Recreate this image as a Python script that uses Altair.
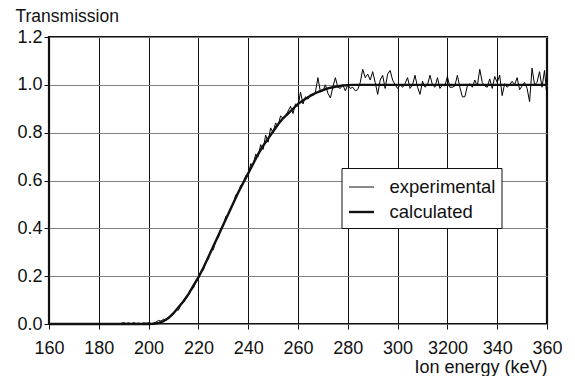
import altair as alt
import pandas as pd

# ---- data ----
calc_energy = list(range(160, 362, 2))
calc_values = [0.0] * 21 + [
    0.001, 0.004, 0.012, 0.025, 0.045, 0.07, 0.095, 0.125, 0.16, 0.195,
    0.235, 0.28, 0.325, 0.37, 0.415, 0.46, 0.505, 0.55, 0.59, 0.63,
    0.67, 0.71, 0.745, 0.775, 0.805, 0.835, 0.86, 0.88, 0.90, 0.92,
    0.935, 0.948, 0.96, 0.97, 0.978, 0.985, 0.99, 0.994, 0.997, 0.999,
] + [1.0] * 40

exp_energy = list(range(188, 361))
exp_values = [
    0.0, 0.003, 0.006, 0.002, 0.005, 0.001, 0.006, 0.002, 0.004, 0.001,
    0.005, 0.003, 0.006, 0.002, 0.004, 0.008, 0.015, 0.012, 0.02, 0.014,
    0.03, 0.032, 0.04, 0.06, 0.058, 0.08, 0.09, 0.105, 0.12, 0.14,
    0.15, 0.175, 0.19, 0.22, 0.225, 0.26, 0.27, 0.31, 0.31, 0.35,
    0.36, 0.40, 0.41, 0.45, 0.455, 0.49, 0.50, 0.54, 0.545, 0.58,
    0.59, 0.62, 0.62, 0.67, 0.665, 0.71, 0.70, 0.75, 0.73, 0.79,
    0.76, 0.82, 0.80, 0.84, 0.83, 0.87, 0.86, 0.87, 0.89, 0.91,
    0.88, 0.92, 0.91, 0.97, 0.92, 0.95, 0.94, 0.96, 0.955, 0.97,
    1.03, 0.97, 0.975, 1.0, 0.965, 0.945, 0.99, 1.03, 0.99, 0.985,
    1.0, 0.975, 1.0, 0.985, 0.99, 0.975, 0.98, 1.01, 1.065, 1.03,
    1.045, 1.02, 1.055, 1.01, 0.96, 1.02, 1.04, 0.985, 1.045, 1.06,
    1.02, 1.0, 0.985, 1.0, 0.99, 1.005, 1.03, 0.985, 1.0, 1.04,
    0.99, 0.96, 1.015, 0.99, 1.0, 1.04, 1.0, 0.99, 1.03, 0.985,
    1.0, 0.995, 1.035, 0.99, 0.99, 0.995, 1.04, 0.99, 0.95, 0.95,
    0.995, 1.005, 0.99, 1.02, 0.995, 1.065, 1.01, 0.995, 0.99, 1.025,
    0.985, 1.035, 1.01, 1.04, 0.955, 1.005, 0.99, 1.0, 1.015, 1.0,
    1.03, 0.98, 0.995, 1.01, 0.985, 0.93, 1.07, 1.0, 1.01, 1.055,
    0.99, 1.06, 0.95,
]

series_names = ["experimental", "calculated"]
x_ticks = [160, 180, 200, 220, 240, 260, 280, 300, 320, 340, 360]
x_tick_labels = ["160", "180", "200", "220", "240", "260", "280", "300", "3200", "340", "360"]
y_ticks = [0.0, 0.2, 0.4, 0.6, 0.8, 1.0, 1.2]

df = pd.concat([
    pd.DataFrame({"energy": exp_energy, "value": exp_values, "series": series_names[0]}),
    pd.DataFrame({"energy": calc_energy, "value": calc_values, "series": series_names[1]}),
])

label_expr = "{" + ",".join(f"'{v}':'{l}'" for v, l in zip(x_ticks, x_tick_labels)) + "}[datum.value]"

FONT = "Liberation Sans"
INK = "#111111"

x_enc = alt.X("energy:Q",
              scale=alt.Scale(domain=[160, 360], nice=False, zero=False),
              axis=alt.Axis(values=x_ticks, labelExpr=label_expr, title="Ion energy (keV)",
                            titleAlign="right", titleAnchor="end", titleX=498, titleY=48,
                            titleBaseline="alphabetic", titleFontSize=18, titleFontWeight="normal",
                            labelFontSize=18, labelFlush=False, labelOverlap=False,
                            tickSize=5, labelPadding=10, domain=False,
                            gridColor=INK, gridWidth=1, gridOpacity=1,
                            tickColor=INK, labelColor=INK, titleColor=INK))
y_enc = alt.Y("value:Q",
              scale=alt.Scale(domain=[0, 1.2], nice=False),
              axis=alt.Axis(values=y_ticks, format=".1f", title="Transmission",
                            titleAngle=0, titleAlign="left", titleX=-34, titleY=-16,
                            titleBaseline="alphabetic", titleFontSize=17.5, titleFontWeight="normal",
                            labelFontSize=18, labelOverlap=False, tickSize=5, labelPadding=2, domain=False,
                            gridColor="#808080", gridWidth=1, gridOpacity=1,
                            tickColor=INK, labelColor=INK, titleColor=INK))
sw_enc = alt.StrokeWidth("series:N",
                         scale=alt.Scale(domain=series_names, range=[1.0, 2.4]),
                         sort=series_names,
                         legend=alt.Legend(title=None, orient="none", legendX=292.5, legendY=131,
                                           symbolType="stroke", symbolStrokeColor=INK,
                                           symbolSize=625, labelFontSize=18.5, labelFont=FONT,
                                           labelColor=INK, labelOffset=14, rowPadding=1,
                                           padding=6, strokeColor=INK, fillColor="white",
                                           cornerRadius=0))

base = alt.Chart(df)
exp_line = base.transform_filter(alt.datum.series == series_names[0]).mark_line(color="#000000").encode(
    x=x_enc, y=y_enc, strokeWidth=sw_enc, order="energy:Q")
calc_line = base.transform_filter(alt.datum.series == series_names[1]).mark_line(color=INK).encode(
    x=x_enc, y=y_enc, strokeWidth=sw_enc, order="energy:Q")

chart = alt.layer(exp_line, calc_line).properties(
    width=498, height=287,
    autosize=alt.AutoSizeParams(type="none"),
    padding={"left": 49, "top": 37, "right": 28, "bottom": 52},
    background="white",
).configure_view(
    stroke=INK, strokeWidth=2.2
).configure_axis(
    labelFont=FONT, titleFont=FONT
)

chart.save("out.html", embed_options={"renderer": "svg", "actions": False})
